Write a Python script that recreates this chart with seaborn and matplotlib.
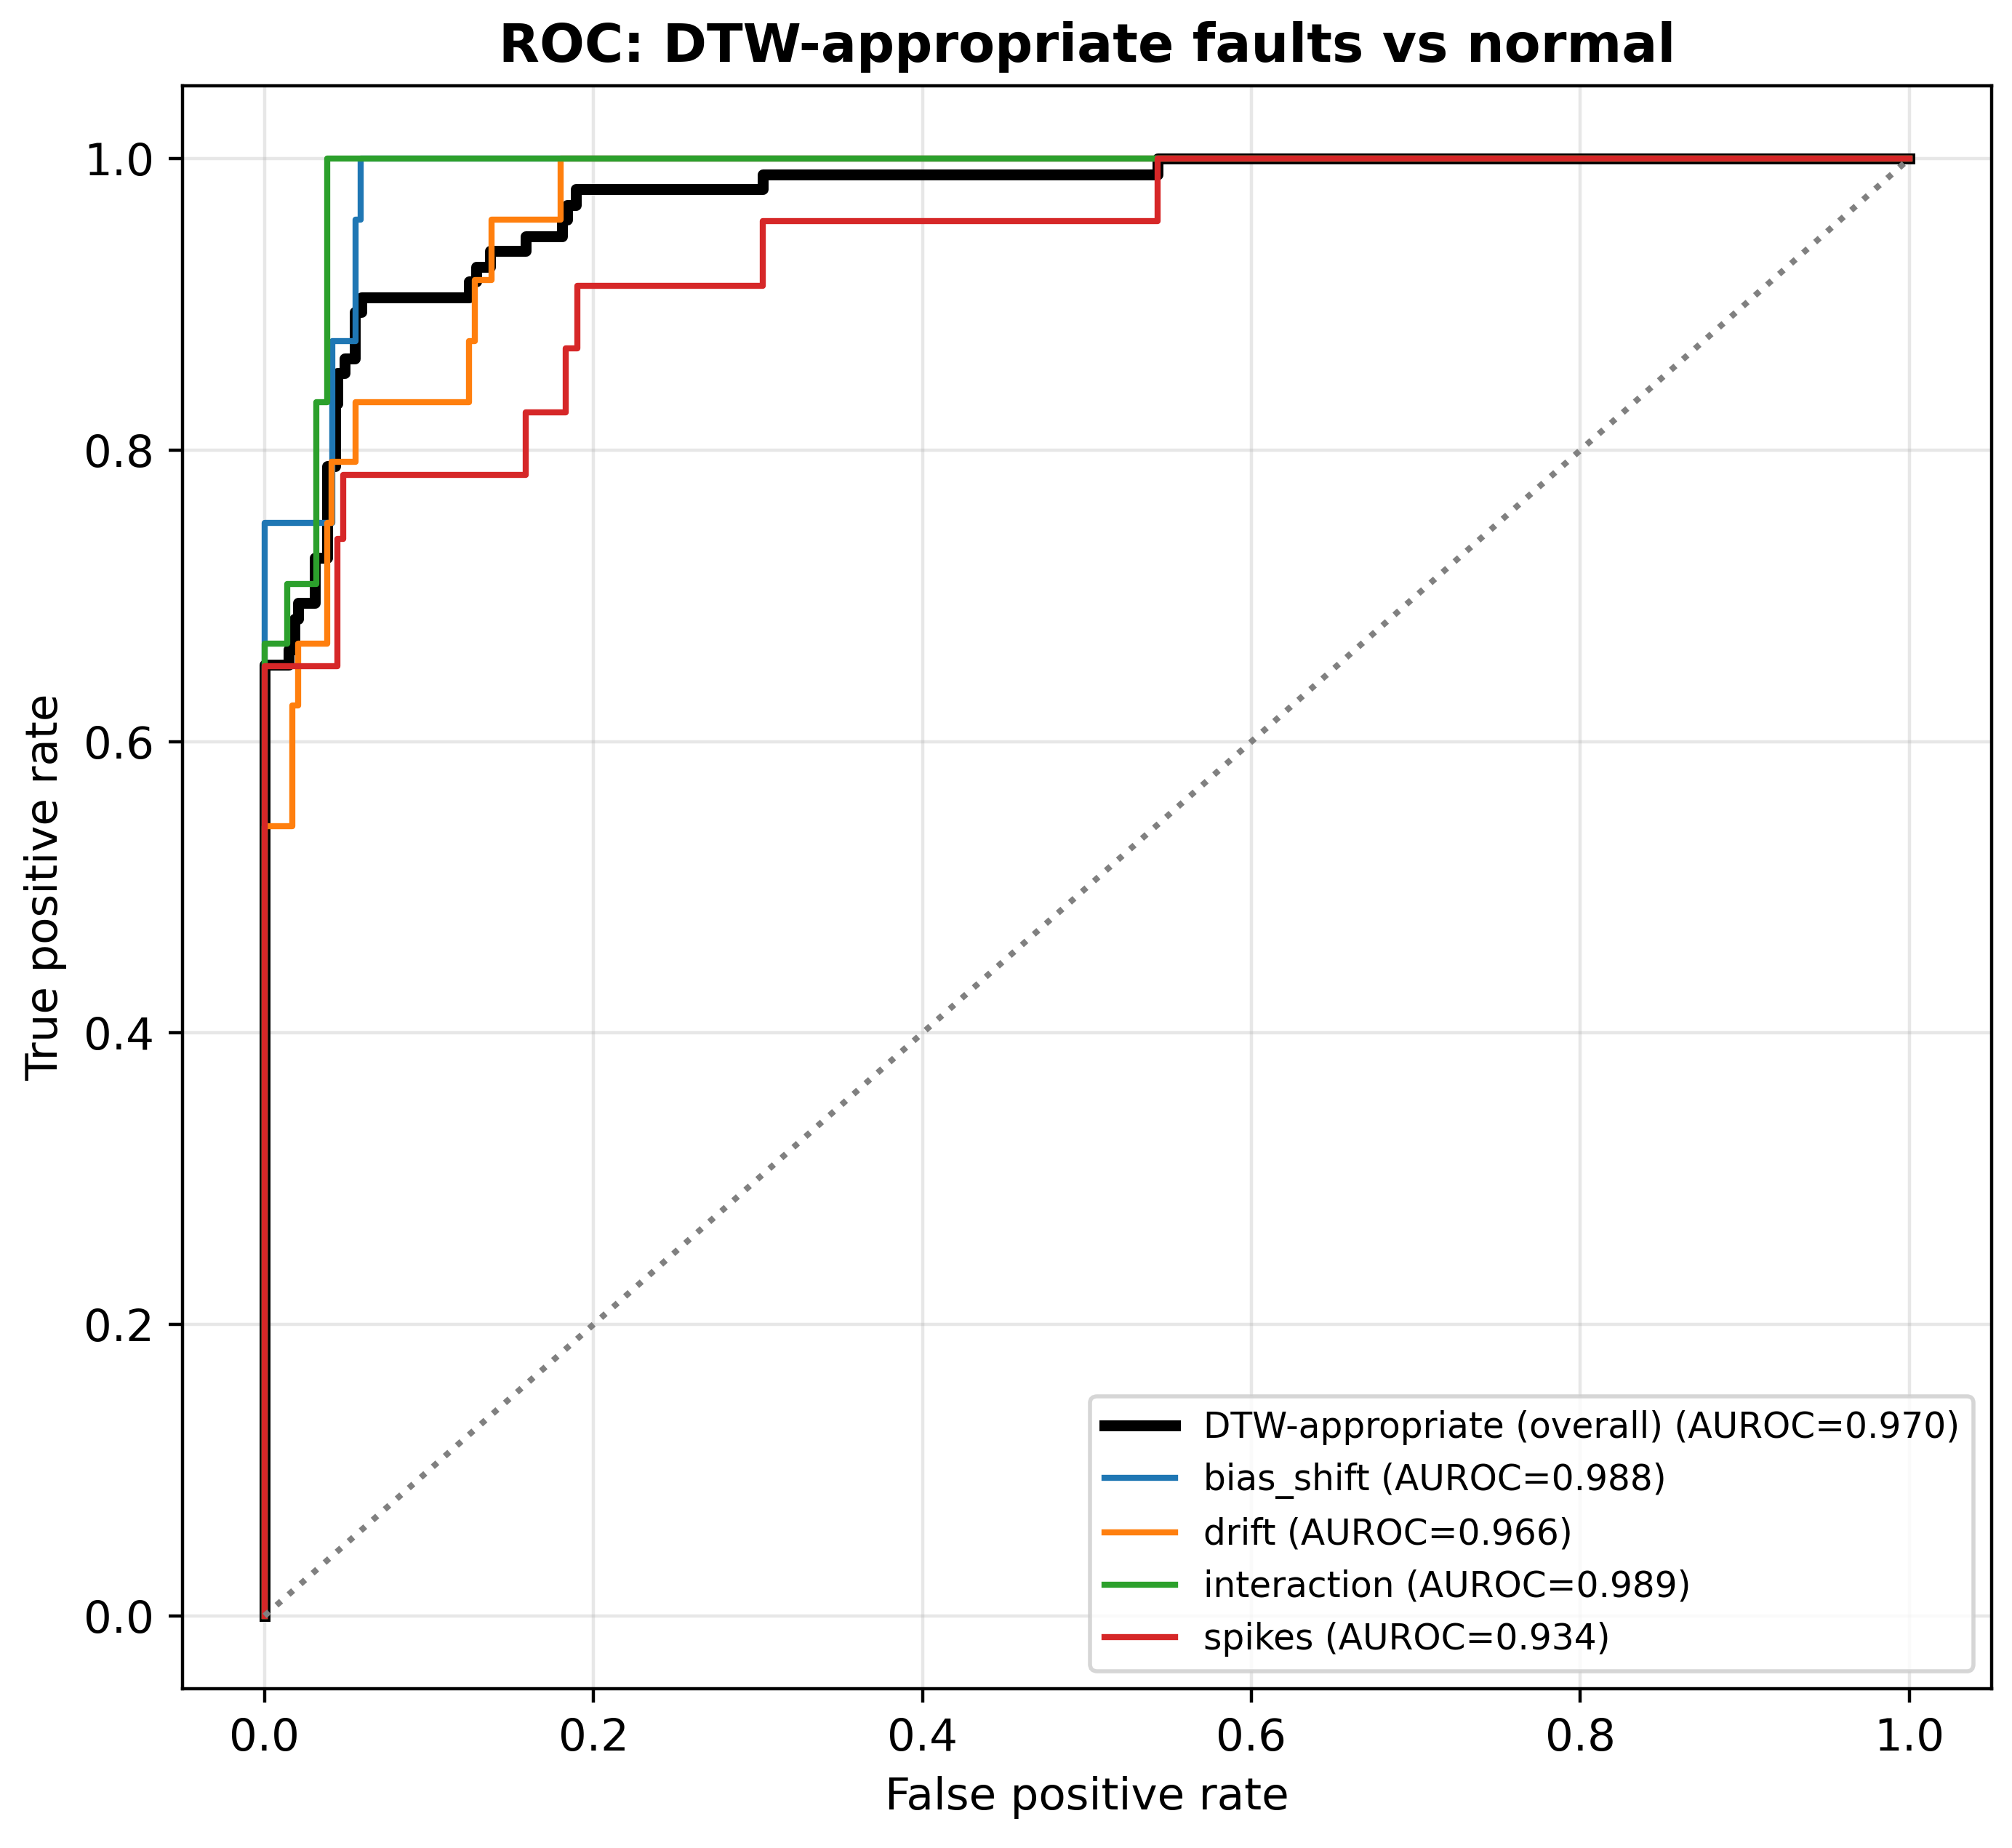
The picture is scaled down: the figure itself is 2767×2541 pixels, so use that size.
import matplotlib
matplotlib.use("Agg")
import matplotlib.pyplot as plt
import seaborn as sns

# ROC corner points (fpr where tpr rises, tpr after the rise)
overall_fpr = [0, 0, 0.0146, 0.0183, 0.0205, 0.0308, 0.038, 0.0431, 0.0445, 0.0489, 0.0548,
               0.059, 0.1243, 0.1287, 0.137, 0.1587, 0.1807, 0.1841, 0.1894, 0.303, 0.543, 1.0]
overall_tpr = [0, 0.653, 0.663, 0.684, 0.695, 0.726, 0.789, 0.832, 0.853, 0.863, 0.895,
               0.905, 0.916, 0.926, 0.937, 0.947, 0.958, 0.968, 0.979, 0.989, 1.0, 1.0]

bias_fpr = [0, 0, 0.041, 0.0555, 0.0585, 1.0]
bias_tpr = [0, 0.75, 0.875, 0.958, 1.0, 1.0]

drift_fpr = [0, 0, 0.0167, 0.0204, 0.038, 0.0409, 0.0555, 0.1243, 0.128, 0.138, 0.18, 1.0]
drift_tpr = [0, 0.542, 0.625, 0.667, 0.75, 0.792, 0.833, 0.875, 0.917, 0.958, 1.0, 1.0]

inter_fpr = [0, 0, 0.0138, 0.0313, 0.038, 1.0]
inter_tpr = [0, 0.667, 0.708, 0.833, 1.0, 1.0]

spikes_fpr = [0, 0, 0.0445, 0.048, 0.159, 0.183, 0.19, 0.303, 0.543, 1.0]
spikes_tpr = [0, 0.652, 0.739, 0.783, 0.826, 0.870, 0.913, 0.957, 1.0, 1.0]

auroc = {"overall": 0.970, "bias_shift": 0.988, "drift": 0.966,
         "interaction": 0.989, "spikes": 0.934}

curves = [
    ("DTW-appropriate (overall)", overall_fpr, overall_tpr, "black", 2.7, auroc["overall"]),
    ("bias_shift", bias_fpr, bias_tpr, "#1f77b4", 1.5, auroc["bias_shift"]),
    ("drift", drift_fpr, drift_tpr, "#ff7f0e", 1.5, auroc["drift"]),
    ("interaction", inter_fpr, inter_tpr, "#2ca02c", 1.5, auroc["interaction"]),
    ("spikes", spikes_fpr, spikes_tpr, "#d62728", 1.5, auroc["spikes"]),
]

plt.rcParams["font.family"] = ["DejaVu Sans"]
plt.rcParams["font.size"] = 11

fig = plt.figure(figsize=(2767 / 400, 2541 / 400), dpi=400)
ax = fig.add_axes([0.0906, 0.0862, 0.9898 - 0.0906, 0.9535 - 0.0862])

for name, fpr, tpr, color, lw, auc in curves:
    sns.lineplot(x=fpr, y=tpr, ax=ax, sort=False, estimator=None,
                 drawstyle="steps-post", color=color, linewidth=lw,
                 label=f"{name} (AUROC={auc:.3f})")

# chance line
sns.lineplot(x=[0, 1], y=[0, 1], ax=ax, color="gray", linestyle=":",
             linewidth=1.5, legend=False)

ax.set_xlim(-0.05, 1.05)
ax.set_ylim(-0.05, 1.05)
ax.set_xticks([0.0, 0.2, 0.4, 0.6, 0.8, 1.0])
ax.set_yticks([0.0, 0.2, 0.4, 0.6, 0.8, 1.0])
ax.grid(True, alpha=0.3)
ax.set_xlabel("False positive rate")
ax.set_ylabel("True positive rate")
ax.set_title("ROC: DTW-appropriate faults vs normal", fontsize=13.1, fontweight="bold")
ax.legend(loc="lower right", fontsize=8.75)

fig.savefig("out.png", dpi=400)
